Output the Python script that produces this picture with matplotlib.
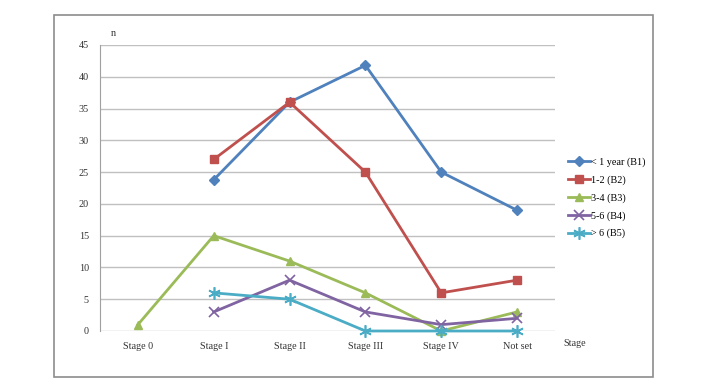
import matplotlib.pyplot as plt
import numpy as np
from matplotlib.patches import Rectangle

plt.rcParams['font.family'] = ['Liberation Serif', 'DejaVu Serif']

stages = ['Stage 0', 'Stage I', 'Stage II', 'Stage III', 'Stage IV', 'Not set']
b1 = [np.nan, 23.8, 36, 41.8, 25, 19]
b2 = [np.nan, 27, 36, 25, 6, 8]
b3 = [1, 15, 11, 6, 0, 3]
b4 = [np.nan, 3, 8, 3, 1, 2]
b5 = [np.nan, 6, 5, 0, 0, 0]
labels = ['< 1 year (B1)', '1-2 (B2)', '3-4 (B3)', '5-6 (B4)', '> 6 (B5)']
colors = ['#4F81BD', '#C0504D', '#9BBB59', '#8064A2', '#4BACC6']
markers = ['D', 's', '^', 'x', (6, 2, 0)]
msizes = [5, 6, 6, 7, 9]

fig = plt.figure(figsize=(7.06, 3.9), dpi=100)
fig.patches.append(Rectangle((54/706, 13/390), 599/706, 362/390, transform=fig.transFigure,
                             fill=False, edgecolor='#8c8c8c', linewidth=1.2))
ax = fig.add_axes([100/706, 59/390, 455/706, 286/390])

x = np.arange(len(stages))
series = [b1, b2, b3, b4, b5]
for s, lab, c, m, ms in zip(series, labels, colors, markers, msizes):
    ax.plot(x, s, color=c, marker=m, markersize=ms, linewidth=2, label=lab,
            markeredgewidth=1.2 if m in ('x',) or isinstance(m, tuple) else 1, clip_on=False)

ax.set_xlim(-0.5, len(stages) - 0.5)
ax.set_ylim(0, 45)
ax.set_yticks(range(0, 46, 5))
ax.set_xticks(x)
ax.set_xticklabels(stages)
ax.grid(axis='y', color='#c0c0c0', linewidth=1)
ax.set_axisbelow(True)
for sp in ['top', 'right', 'bottom']:
    ax.spines[sp].set_visible(False)
ax.spines['left'].set_color('#a0a0a0')
ax.tick_params(length=0, labelsize=7.3, colors='#333333')
ax.tick_params(axis='x', pad=8)
ax.tick_params(axis='y', pad=8)

fig.text(113/706, 1 - 33/390, 'n', fontsize=7.3, ha='center', va='center', color='#333333')
fig.text(563/706, 1 - 343/390, 'Stage', fontsize=7.3, ha='left', va='center', color='#333333')

ax.legend(loc='upper left', bbox_to_anchor=(559/706, 1 - 148/390), bbox_transform=fig.transFigure,
          frameon=False, fontsize=7.3, handlelength=2.2, handletextpad=0.1, labelspacing=0.82)

fig.savefig('out.png', dpi=100)
